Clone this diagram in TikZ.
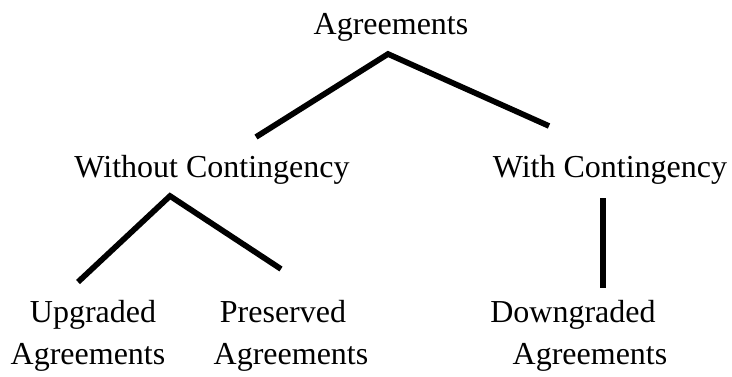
\documentclass[tikz,border=0pt]{standalone}
\usepackage{fontspec}
\setmainfont{Liberation Serif}
\usepackage{tikz}

\begin{document}
\begin{tikzpicture}[x=0.5pt,y=-0.5pt,
  lbl/.style={anchor=base,inner sep=0pt,font=\fontsize{16pt}{19pt}\selectfont},
  branch/.style={line width=2.85pt}]
\useasboundingbox (0,0) rectangle (732,376);
\node [lbl] (root) at (391,34) {Agreements};
\node [lbl] (without) at (212,177) {Without Contingency};
\node [lbl] (with) at (610,177) {With Contingency};
  \foreach \nm/\txt/\pos in {up/Upgraded/93,pres/Preserved/283,down/Downgraded/573}
  {  \node [lbl] (\nm) at (\pos,322) {\txt};}
  \foreach \nm/\pos in {up/88,pres/291,down/590}
  {  \node [lbl] (\nm agr) at (\pos,364) {Agreements};}
% branch ends
\coordinate (rtop) at (388,54);
\coordinate (rleft) at (256,137);
\coordinate (rright) at (549,126);
\coordinate (wtop) at (170,196);
\coordinate (wleft) at (78,282);
\coordinate (wright) at (281,269);
\coordinate (ctop) at (603,198);
\coordinate (cbot) at (603,288);
\draw [branch] (rleft) -- (rtop) -- (rright);
\draw [branch] (wleft) -- (wtop) -- (wright);
\draw [branch] (ctop) -- (cbot);
\end{tikzpicture}
\end{document}
